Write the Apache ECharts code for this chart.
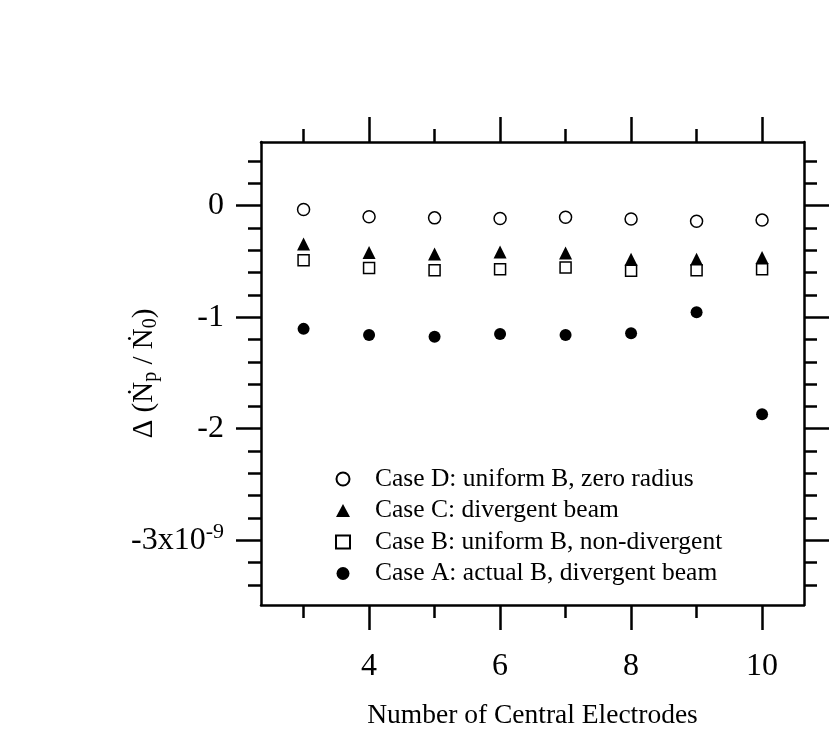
<!DOCTYPE html>
<html>
<head>
<meta charset="utf-8">
<script src="https://cdn.jsdelivr.net/npm/echarts@6/dist/echarts.min.js"></script>
<style>html,body{margin:0;padding:0;background:#fff}#c{width:830px;height:729px}</style>
</head>
<body>
<div id="c"></div>
<script>
const electrodes = [3, 4, 5, 6, 7, 8, 9, 10];
const caseD = [-0.035, -0.10, -0.11, -0.115, -0.105, -0.12, -0.14, -0.13];
const caseC = [-0.345, -0.42, -0.435, -0.415, -0.425, -0.48, -0.48, -0.465];
const caseB = [-0.49, -0.56, -0.58, -0.57, -0.555, -0.585, -0.58, -0.57];
const caseA = [-1.105, -1.16, -1.175, -1.15, -1.16, -1.145, -0.955, -1.87];
const xMajor = [4, 6, 8, 10];
const xMinor = [3, 5, 7, 9];
const yMajor = [0, -1, -2, -3];
const yMinor = [0.4, 0.2, -0.2, -0.4, -0.6, -0.8, -1.2, -1.4, -1.6, -1.8, -2.2, -2.4, -2.6, -2.8, -3.2, -3.4];
const seriesNames = ['Case D: uniform B, zero radius', 'Case C: divergent beam', 'Case B: uniform B, non-divergent', 'Case A: actual B, divergent beam'];

const FONT = "'Liberation Serif', 'Times New Roman', serif";
const XMIN = 2.35, XMAX = 10.64, YMIN = -3.58, YMAX = 0.57;
const LW = 2.5;

function xAx(pos, values, len, major) {
  return {
    type: 'value', position: pos, min: XMIN, max: XMAX,
    axisLine: { show: major, onZero: false, lineStyle: { color: '#000', width: LW } },
    axisTick: { show: true, inside: false, length: len, customValues: values, lineStyle: { color: '#000', width: LW } },
    axisLabel: { show: major && pos === 'bottom', customValues: values, margin: 46, fontSize: 32, color: '#000', fontFamily: FONT },
    splitLine: { show: false }
  };
}
function yAx(pos, values, len, major) {
  return {
    type: 'value', position: pos, min: YMIN, max: YMAX,
    axisLine: { show: major, onZero: false, lineStyle: { color: '#000', width: LW } },
    axisTick: { show: true, inside: false, length: len, customValues: values, lineStyle: { color: '#000', width: LW } },
    axisLabel: {
      show: major && pos === 'left', customValues: values, margin: 37, fontSize: 32, color: '#000', fontFamily: FONT,
      formatter: function (v) { return v === -3 ? '{a|-3x10}{sup|-9}' : '{a|' + v + '}'; },
      rich: {
        a: { fontSize: 32, fontFamily: FONT, color: '#000' },
        sup: { fontSize: 22, fontFamily: FONT, color: '#000', verticalAlign: 'top', padding: [0, 0, 16, 0] }
      }
    },
    splitLine: { show: false }
  };
}

const xAxes = [xAx('bottom', xMajor, 25, true), xAx('bottom', xMinor, 13, false), xAx('top', xMajor, 25, true), xAx('top', xMinor, 13, false)];
xAxes[0].name = 'Number of Central Electrodes';
xAxes[0].nameLocation = 'middle';
xAxes[0].nameGap = 97;
xAxes[0].nameMoveOverlap = false;
xAxes[0].nameTextStyle = { fontSize: 27.5, fontFamily: FONT, color: '#000' };

const yAxes = [yAx('left', yMajor, 25, true), yAx('left', yMinor, 13, false), yAx('right', yMajor, 25, true), yAx('right', yMinor, 13, false)];
yAxes[0].name = '{n|Δ (Ṅ}{s|p}{n| / Ṅ}{s|0}{n|)}';
yAxes[0].nameLocation = 'middle';
yAxes[0].nameGap = 100;
yAxes[0].nameMoveOverlap = false;
yAxes[0].nameTextStyle = {
  fontSize: 29, fontFamily: FONT, color: '#000',
  rich: {
    n: { fontSize: 29, fontFamily: FONT, color: '#000' },
    s: { fontSize: 20, fontFamily: FONT, color: '#000', verticalAlign: 'bottom', padding: [14, 0, 0, 0] }
  }
};

function pts(vals) { return electrodes.map((x, i) => [x, vals[i]]); }

const chart = echarts.init(document.getElementById('c'), null, { renderer: 'canvas' });
chart.setOption({
  animation: false,
  backgroundColor: '#fff',
  grid: { left: 261, right: 26, top: 142, bottom: 124, containLabel: false, outerBoundsMode: 'none' },
  xAxis: xAxes,
  yAxis: yAxes,
  legend: {
    orient: 'vertical', left: 330, top: 461,
    itemWidth: 14, itemHeight: 13, itemGap: 5.5,
    textStyle: { fontSize: 25.5, fontFamily: FONT, color: '#000', padding: [0, 0, 0, 20] },
    data: seriesNames
  },
  series: [
    { name: seriesNames[0], type: 'scatter', data: pts(caseD), symbol: 'circle', symbolSize: 12,
      itemStyle: { color: '#fff', borderColor: '#000', borderWidth: 1.5, opacity: 1 } },
    { name: seriesNames[1], type: 'scatter', data: pts(caseC), symbol: 'triangle', symbolSize: 13,
      itemStyle: { color: '#000', opacity: 1 } },
    { name: seriesNames[2], type: 'scatter', data: pts(caseB), symbol: 'rect', symbolSize: 11,
      itemStyle: { color: '#fff', borderColor: '#000', borderWidth: 1.5, opacity: 1 } },
    { name: seriesNames[3], type: 'scatter', data: pts(caseA), symbol: 'circle', symbolSize: 12,
      itemStyle: { color: '#000', opacity: 1 } }
  ]
});
</script>
</body>
</html>
